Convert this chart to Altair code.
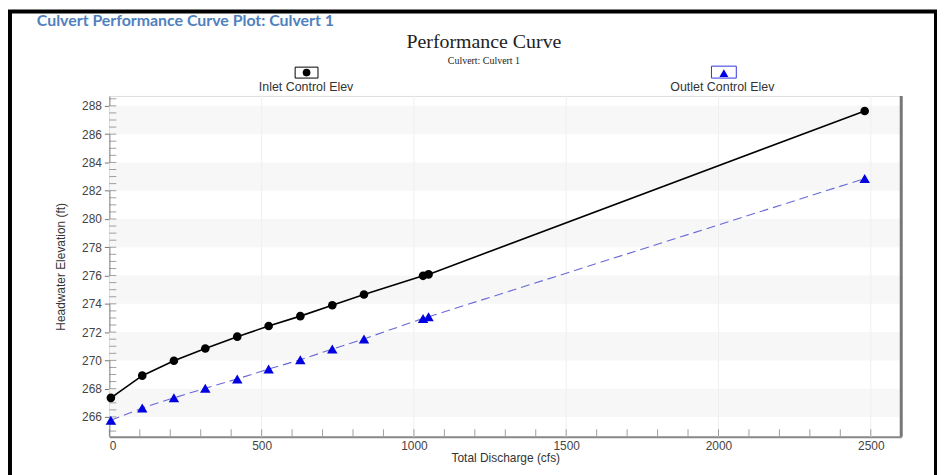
import altair as alt
import pandas as pd

# ---- data ----
discharge = [5, 108, 212, 315, 420, 523, 627, 732, 836, 1030, 1048, 2480]
inlet_elev = [267.35, 268.92, 269.97, 270.84, 271.68, 272.43, 273.13, 273.90, 274.66, 275.98, 276.08, 287.64]
outlet_elev = [265.76, 266.63, 267.35, 268.03, 268.69, 269.39, 270.04, 270.80, 271.52, 272.97, 273.08, 282.86]

band_lo = [266, 270, 274, 278, 282, 286]
band_hi = [268, 272, 276, 280, 284, 288]
x_labels = [0, 500, 1000, 1500, 2000, 2500]
x_grid = [500, 1000, 1500, 2000, 2500]
x_minor = list(range(0, 2601, 100))
y_major = list(range(266, 289, 2))
y_minor = [265 + 0.5 * i for i in range(48)]

W, H = 797, 343
FONT = "Liberation Sans"

xs = alt.Scale(domain=[0, 2600], nice=False, zero=False)
ys = alt.Scale(domain=[264.6, 288.7], nice=False, zero=False)

xaxis = alt.Axis(values=x_labels, format="d", ticks=False, grid=False, labelFont=FONT, labelFontSize=12,
                 labelColor="#444", labelPadding=4, title="Total Discharge (cfs)",
                 titleFont=FONT, titleFontSize=12, titleFontWeight="normal", titleColor="#333",
                 titlePadding=1, domainColor="#888", domainWidth=2)
yaxis = alt.Axis(values=y_major, format="d", tickSize=5, tickColor="#777", grid=False, labelFont=FONT,
                 labelFontSize=12, labelColor="#444", labelPadding=3,
                 title="Headwater Elevation (ft)", titleFont=FONT, titleFontSize=12,
                 titleFontWeight="normal", titleColor="#333", titlePadding=14,
                 domainColor="#888", domainWidth=1)

X = lambda f: alt.X(f, type="quantitative", scale=xs, axis=xaxis)
Y = lambda f: alt.Y(f, type="quantitative", scale=ys, axis=yaxis)

inlet = pd.DataFrame({"q": discharge, "e": inlet_elev})
outlet = pd.DataFrame({"q": discharge, "e": outlet_elev})
bands = pd.DataFrame({"e": band_lo, "e2": band_hi})
one = pd.DataFrame({"a": [0]})

band_layer = alt.Chart(bands).mark_rect(color="#f7f7f7").encode(
    y=Y("e"), y2="e2", x=alt.value(0), x2=alt.value(W))

grid_layer = alt.Chart(pd.DataFrame({"q": x_grid})).mark_rule(color="#efefef", strokeWidth=1).encode(
    x=X("q"), y=alt.value(0), y2=alt.value(H))

xminor_layer = alt.Chart(pd.DataFrame({"q": x_minor})).mark_tick(
    orient="vertical", size=7, thickness=1, color="#777").encode(
    x=X("q"), y=alt.value(H - 4))

yminor_layer = alt.Chart(pd.DataFrame({"e": y_minor})).mark_tick(
    orient="horizontal", size=7, thickness=1, color="#777").encode(
    y=Y("e"), x=alt.value(3.5))

right_border = alt.Chart(one).mark_rule(color="#777", strokeWidth=3).encode(
    x=alt.value(W), y=alt.value(0), y2=alt.value(H))

inlet_line = alt.Chart(inlet).mark_line(color="black", strokeWidth=1.6).encode(x=X("q"), y=Y("e"))
inlet_pts = alt.Chart(inlet).mark_point(shape="circle", filled=True, color="black", size=75,
                                        opacity=1).encode(x=X("q"), y=Y("e"))
outlet_line = alt.Chart(outlet).mark_line(color="#6868d8", strokeWidth=1.1, strokeDash=[9, 5]).encode(
    x=X("q"), y=Y("e"))
outlet_pts = alt.Chart(outlet).mark_point(shape="triangle-up", filled=True, color="#0000e0", size=110,
                                          opacity=1).encode(x=X("q"), y=Y("e"))


def txt(s, x, y, size, font=FONT, color="#333", weight="normal", align="center"):
    return alt.Chart(one).mark_text(text=s, font=font, fontSize=size, color=color,
                                    fontWeight=weight, align=align, baseline="alphabetic").encode(
        x=alt.value(x), y=alt.value(y))


def box(x1, x2, y1, y2, color, width=1):
    return alt.Chart(one).mark_rect(fillOpacity=0, stroke=color, strokeWidth=width).encode(
        x=alt.value(x1), x2=alt.value(x2), y=alt.value(y1), y2=alt.value(y2))


frame = box(-100, 832, -85, 430, "black", 4)

main_title = txt("Culvert Performance Curve Plot: Culvert 1", -73, -70, 16, font="Lato",
                 color="#4f81bd", weight="bold", align="left")
chart_title = txt("Performance Curve", 377, -48, 20, font="Liberation Serif", color="#222")
chart_sub = txt("Culvert: Culvert 1", 377, -32, 10, font="Liberation Serif", color="#222")

leg1_box = box(187, 210, -29, -18, "black")
leg1_pt = alt.Chart(one).mark_point(shape="circle", filled=True, color="black", size=60,
                                    opacity=1).encode(x=alt.value(198.5), y=alt.value(-23.5))
leg1_txt = txt("Inlet Control Elev", 198, -5, 12.5)
leg2_box = box(606, 631, -30, -18, "#3333dd")
leg2_pt = alt.Chart(one).mark_point(shape="triangle-up", filled=True, color="#0000e0", size=80,
                                    opacity=1).encode(x=alt.value(618.5), y=alt.value(-23))
leg2_txt = txt("Outlet Control Elev", 617, -5, 12.5)

chart = alt.layer(
    band_layer, grid_layer, xminor_layer, yminor_layer, right_border,
    outlet_line, inlet_line, outlet_pts, inlet_pts,
    frame, main_title, chart_title, chart_sub,
    leg1_box, leg1_pt, leg1_txt, leg2_box, leg2_pt, leg2_txt,
).properties(
    width=W, height=H,
    autosize=alt.AutoSizeParams(type="none"),
    padding={"left": 102, "top": 87, "right": 36, "bottom": 40},
).configure_view(stroke="#aaa", strokeWidth=1).configure(background="white")

chart.save("out.html", embed_options={"renderer": "svg", "actions": False})
